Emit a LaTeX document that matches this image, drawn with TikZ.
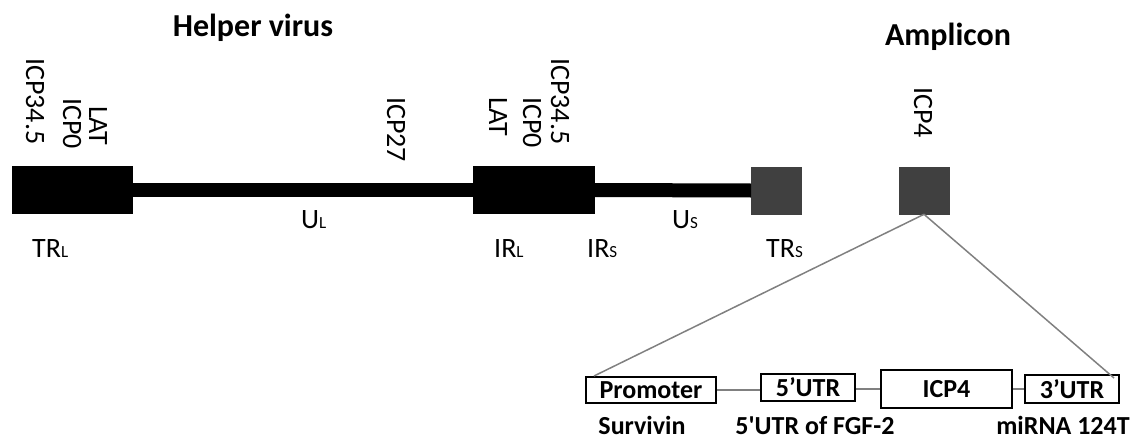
\documentclass[tikz,border=0pt]{standalone}
\usepackage{fontspec}
\setmainfont{Carlito}
\newfontfamily\capfont{Carlito}[Ligatures=TeXOff]
\definecolor{boxgray}{HTML}{404040}
\definecolor{linkgray}{HTML}{808080}
\newcommand\smallsub[1]{{\fontsize{17}{17}\selectfont #1}}
\begin{document}
\begin{tikzpicture}[x=1pt,y=-1pt,
  title/.style={font=\fontsize{32}{32}\selectfont\bfseries, inner sep=0pt},
  gene/.style={rotate=-90, anchor=west, inner sep=0pt, font=\fontsize{28}{28}\selectfont},
  region/.style={anchor=base west, inner sep=0pt, font=\fontsize{28}{28}\selectfont},
  repeatbox/.style={fill=black, inner sep=0pt, minimum height=48pt},
  smallbox/.style={fill=boxgray, draw=boxgray, line width=0.6pt, inner sep=0pt, minimum width=50pt, minimum height=47pt},
  element/.style={draw=black, line width=2pt, inner sep=0pt, font=\fontsize{26}{26}\selectfont\bfseries},
  caption/.style={anchor=base, inner sep=0pt, font=\capfont\fontsize{26}{26}\selectfont\bfseries},
  link/.style={draw=linkgray, line width=1.5pt}]
\useasboundingbox (0,0) rectangle (1132,439);

% titles
\node[title, anchor=base] (helper) at (253,36) {Helper virus};
\node[title, anchor=base] (amplicon) at (948,45) {Amplicon};

% helper virus genome
\node[repeatbox, minimum width=121pt] (trl) at (72,190) {};
\node[repeatbox, minimum width=122pt] (irl) at (534,190) {};
\node[smallbox] (trs) at (776.5,190.5) {};
\draw[line width=14pt] (trl.east) -- (irl.west);
\draw[line width=14pt] (irl.east) -- (trs.west);

% amplicon
\node[smallbox] (icpbox) at (924,190.5) {};

% gene labels
\node[gene] (g1) at (35,58) {ICP34.5};
\node[gene] (g2) at (72,98) {ICP0};
\node[gene] (g3) at (98,106) {LAT};
\node[gene] (g4) at (396,97) {ICP27};
\node[gene] (g5) at (498,97) {LAT};
\node[gene] (g6) at (532,97) {ICP0};
\node[gene] (g7) at (560,58) {ICP34.5};
\node[gene] (g8) at (923,87) {ICP4};

% region labels
\node[region] (l1) at (32,257) {TR\smallsub{L}};
\node[region] (l2) at (301,228) {U\smallsub{L}};
\node[region] (l3) at (494,257) {IR\smallsub{L}};
\node[region] (l4) at (587,257) {IR\smallsub{S}};
\node[region] (l5) at (672,228) {U\smallsub{S}};
\node[region] (l6) at (766,257) {TR\smallsub{S}};

% expression cassette
\node[element, minimum width=130pt, minimum height=26pt] (prom) at (651,390) {Promoter};
\node[element, minimum width=94pt, minimum height=27pt] (utr5) at (808,387) {5’UTR};
\node[element, minimum width=131pt, minimum height=38pt] (icp4) at (946.5,389) {ICP4};
\node[element, minimum width=94pt, minimum height=28pt] (utr3) at (1072,389) {3’UTR};

\draw[link] (prom.east) -- (prom.east -| utr5.west);
\draw[link] (utr5.east |- icp4.west) -- (icp4.west);
\draw[link] (icp4.east) -- (utr3.west);

\draw[link] (icpbox.south) -- ([xshift=9pt]prom.north west);
\draw[link] (icpbox.south) -- ([xshift=-6pt,yshift=-4pt]utr3.north east);

% captions
\node[caption] (c1) at (642,434) {Survivin};
\node[caption] (c2) at (815,434) {5'UTR of FGF-2};
\node[caption] (c3) at (1063,434) {miRNA 124T};
\end{tikzpicture}
\end{document}
